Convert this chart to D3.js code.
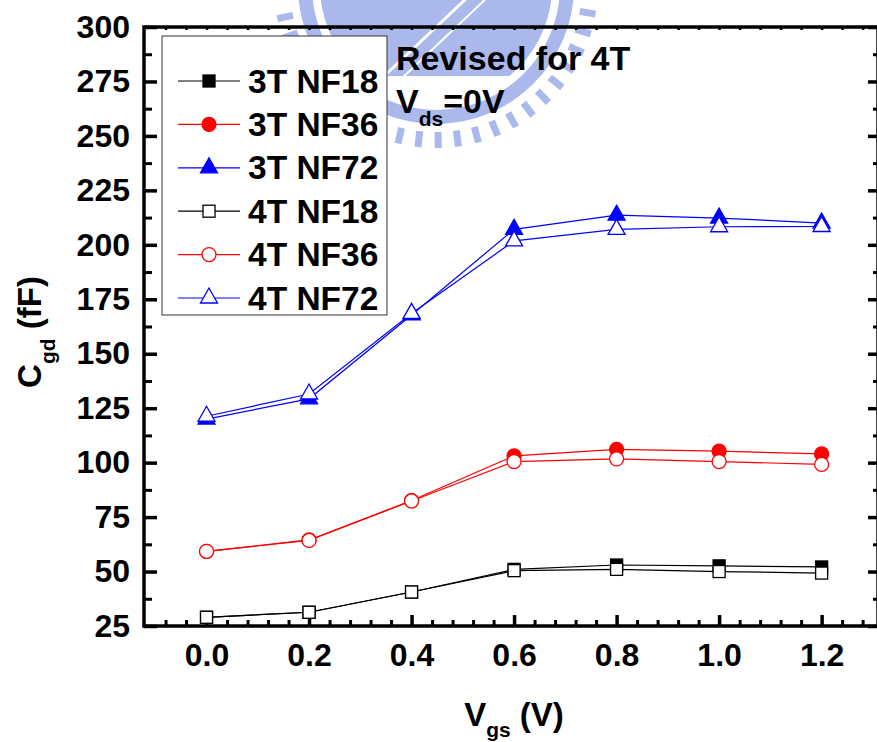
<!DOCTYPE html>
<html>
<head>
<meta charset="utf-8">
<script src="https://cdn.jsdelivr.net/npm/d3@7"></script>
<style>
  body { margin: 0; background: #fff; }
  svg text { font-family: Arial, "Liberation Sans", sans-serif; font-weight: bold; }
</style>
</head>
<body>
<div id="chart"></div>
<script>
const W = 877, H = 742;

// data (Cgd in fF vs Vgs in V)
const vgs = [0.0, 0.2, 0.4, 0.6, 0.8, 1.0, 1.2];
const nf18_3T = [29.0, 31.3, 40.6, 51.0, 53.0, 52.6, 52.1];
const nf36_3T = [59.3, 64.5, 82.6, 103.1, 106.1, 105.3, 104.0];
const nf72_3T = [120.0, 129.3, 167.8, 207.1, 213.6, 212.3, 210.0];
const nf18_4T = [29.0, 31.3, 40.6, 50.4, 51.0, 50.0, 49.3];
const nf36_4T = [59.3, 64.3, 82.4, 100.5, 101.7, 100.5, 99.2];
const nf72_4T = [121.3, 131.5, 168.5, 201.8, 207.1, 208.3, 208.4];

const xTicks = [0.0, 0.2, 0.4, 0.6, 0.8, 1.0, 1.2];
const yTicks = [25, 50, 75, 100, 125, 150, 175, 200, 225, 250, 275, 300];

const seriesNames = ["3T NF18", "3T NF36", "3T NF72", "4T NF18", "4T NF36", "4T NF72"];
const seriesData = [nf18_3T, nf36_3T, nf72_3T, nf18_4T, nf36_4T, nf72_4T];
const seriesColor = ["#000", "#ff0000", "#0000ff", "#000", "#ff0000", "#0000ff"];
const seriesShape = ["square", "circle", "triangle", "square", "circle", "triangle"];
const seriesFilled = [true, true, true, false, false, false];

const pLeft = 144, pRight = 878, pTop = 27, pBottom = 626;

const x = d3.scaleLinear().domain([-0.122, 1.31]).range([pLeft, pRight]);
const y = d3.scaleLinear().domain([25, 300]).range([pBottom, pTop]);

const svg = d3.select("#chart").append("svg")
  .attr("width", W).attr("height", H);

// ! watermark (light blue emblem behind the plot)
const wm = svg.append("g").attr("fill", "#aab8ec");
const cx = 436, cy = -14;
wm.append("path")
  .attr("d", d3.arc().innerRadius(124).outerRadius(138).startAngle(0).endAngle(2 * Math.PI)())
  .attr("transform", `translate(${cx},${cy})`);
d3.range(100, 262, 7.2).forEach(function (a) {
  wm.append("rect")
    .attr("x", -3.5).attr("y", 146).attr("width", 7).attr("height", 16)
    .attr("transform", `translate(${cx},${cy}) rotate(${a - 180})`);
});
wm.append("clipPath").attr("id", "wmclip")
  .append("rect").attr("x", 0).attr("y", 0).attr("width", W).attr("height", 76);
wm.append("circle").attr("cx", cx).attr("cy", cy).attr("r", 116)
  .attr("clip-path", "url(#wmclip)");
wm.append("line").attr("x1", 380).attr("y1", 80).attr("x2", 470).attr("y2", -5)
  .attr("stroke", "#fff").attr("stroke-width", 3);
wm.append("line").attr("x1", 400).attr("y1", 80).attr("x2", 490).attr("y2", -5)
  .attr("stroke", "#fff").attr("stroke-width", 2);

// ! axes
const axisStroke = 3.5;
const minorX = d3.range(-0.08, 1.30, 0.04).filter(v => Math.abs(Math.round(v / 0.2) * 0.2 - v) > 0.01);
const minorY = d3.range(37.5, 300, 25);

// left
svg.append("g").attr("transform", `translate(${pLeft},0)`)
  .call(d3.axisLeft(y).tickValues(yTicks).tickSizeInner(-13).tickSizeOuter(0).tickPadding(14))
  .call(g => g.select(".domain").remove())
  .call(g => g.selectAll("line").attr("stroke-width", 3.5))
  .call(g => g.selectAll("text").attr("font-size", 32).attr("fill", "#000"));
svg.append("g").attr("transform", `translate(${pLeft},0)`)
  .call(d3.axisLeft(y).tickValues(minorY).tickSizeInner(-8).tickSizeOuter(0).tickFormat(""))
  .call(g => g.select(".domain").remove())
  .call(g => g.selectAll("line").attr("stroke-width", 3));

// right
svg.append("g").attr("transform", `translate(${pRight},0)`)
  .call(d3.axisRight(y).tickValues(yTicks).tickSizeInner(-10).tickSizeOuter(0).tickFormat(""))
  .call(g => g.select(".domain").remove())
  .call(g => g.selectAll("line").attr("stroke-width", 3.5));
svg.append("g").attr("transform", `translate(${pRight},0)`)
  .call(d3.axisRight(y).tickValues(minorY).tickSizeInner(-5).tickSizeOuter(0).tickFormat(""))
  .call(g => g.select(".domain").remove())
  .call(g => g.selectAll("line").attr("stroke-width", 3));

// bottom
svg.append("g").attr("transform", `translate(0,${pBottom})`)
  .call(d3.axisBottom(x).tickValues(xTicks).tickSizeInner(-11).tickSizeOuter(0).tickPadding(17)
    .tickFormat(d3.format(".1f")))
  .call(g => g.select(".domain").remove())
  .call(g => g.selectAll("line").attr("stroke-width", 3.5))
  .call(g => g.selectAll("text").attr("font-size", 32).attr("fill", "#000"));
svg.append("g").attr("transform", `translate(0,${pBottom})`)
  .call(d3.axisBottom(x).tickValues(minorX).tickSizeInner(-6).tickSizeOuter(0).tickFormat(""))
  .call(g => g.select(".domain").remove())
  .call(g => g.selectAll("line").attr("stroke-width", 3));

// top
svg.append("g").attr("transform", `translate(0,${pTop})`)
  .call(d3.axisTop(x).tickValues(xTicks.concat(minorX)).tickSizeInner(-3).tickSizeOuter(0).tickFormat(""))
  .call(g => g.select(".domain").remove())
  .call(g => g.selectAll("line").attr("stroke-width", 2.5));

// frame
svg.append("rect")
  .attr("x", pLeft).attr("y", pTop)
  .attr("width", pRight - pLeft).attr("height", pBottom - pTop)
  .attr("fill", "none").attr("stroke", "#000").attr("stroke-width", axisStroke);

// ! markers
function drawMarker(g, shape, cxm, cym, color, filled) {
  const fill = filled ? color : "#fff";
  if (shape === "square") {
    g.append("rect").attr("x", cxm - 6).attr("y", cym - 6).attr("width", 12).attr("height", 12)
      .attr("fill", fill).attr("stroke", color).attr("stroke-width", 1.3);
  } else if (shape === "circle") {
    g.append("circle").attr("cx", cxm).attr("cy", cym).attr("r", 7)
      .attr("fill", fill).attr("stroke", color).attr("stroke-width", 1.3);
  } else {
    g.append("path")
      .attr("d", `M${cxm},${cym - 10}L${cxm + 8.5},${cym + 5}L${cxm - 8.5},${cym + 5}Z`)
      .attr("fill", fill).attr("stroke", color).attr("stroke-width", 1.3);
  }
}

const line = d3.line().x((d, i) => x(vgs[i])).y(d => y(d));
const plot = svg.append("g");
seriesData.forEach(function (data, s) {
  const g = plot.append("g");
  g.append("path").datum(data)
    .attr("fill", "none").attr("stroke", seriesColor[s]).attr("stroke-width", 1.2)
    .attr("d", line);
  data.forEach(function (v, i) {
    drawMarker(g, seriesShape[s], x(vgs[i]), y(v), seriesColor[s], seriesFilled[s]);
  });
});

// ! legend
const legend = svg.append("g");
legend.append("rect")
  .attr("x", 162).attr("y", 36).attr("width", 225).attr("height", 279)
  .attr("fill", "#fff").attr("stroke", "#333").attr("stroke-width", 1);
seriesNames.forEach(function (name, s) {
  const ly = 81 + s * 43.4;
  legend.append("line").attr("x1", 178).attr("x2", 240).attr("y1", ly).attr("y2", ly)
    .attr("stroke", seriesColor[s]).attr("stroke-width", 1.2);
  drawMarker(legend, seriesShape[s], 209, ly, seriesColor[s], seriesFilled[s]);
  legend.append("text").attr("x", 248).attr("y", ly + 11.5)
    .attr("font-size", 33.5).text(name);
});

// ! annotations
svg.append("text").attr("x", 396).attr("y", 70).attr("font-size", 34).text("Revised for 4T");
const vds = svg.append("text").attr("x", 396).attr("y", 113).attr("font-size", 34);
vds.append("tspan").text("V");
vds.append("tspan").attr("font-size", 21).attr("dy", 13).text("ds");
vds.append("tspan").attr("dy", -13).text("=0V");

// axis titles
const xt = svg.append("text").attr("x", 514).attr("y", 726)
  .attr("text-anchor", "middle").attr("font-size", 33);
xt.append("tspan").text("V");
xt.append("tspan").attr("font-size", 21).attr("dy", 11).text("gs");
xt.append("tspan").attr("dy", -11).text(" (V)");

const yt = svg.append("text")
  .attr("transform", "translate(41,332) rotate(-90)")
  .attr("text-anchor", "middle").attr("font-size", 33);
yt.append("tspan").text("C");
yt.append("tspan").attr("font-size", 21).attr("dy", 14).text("gd");
yt.append("tspan").attr("dy", -14).text(" (fF)");
</script>
</body>
</html>
